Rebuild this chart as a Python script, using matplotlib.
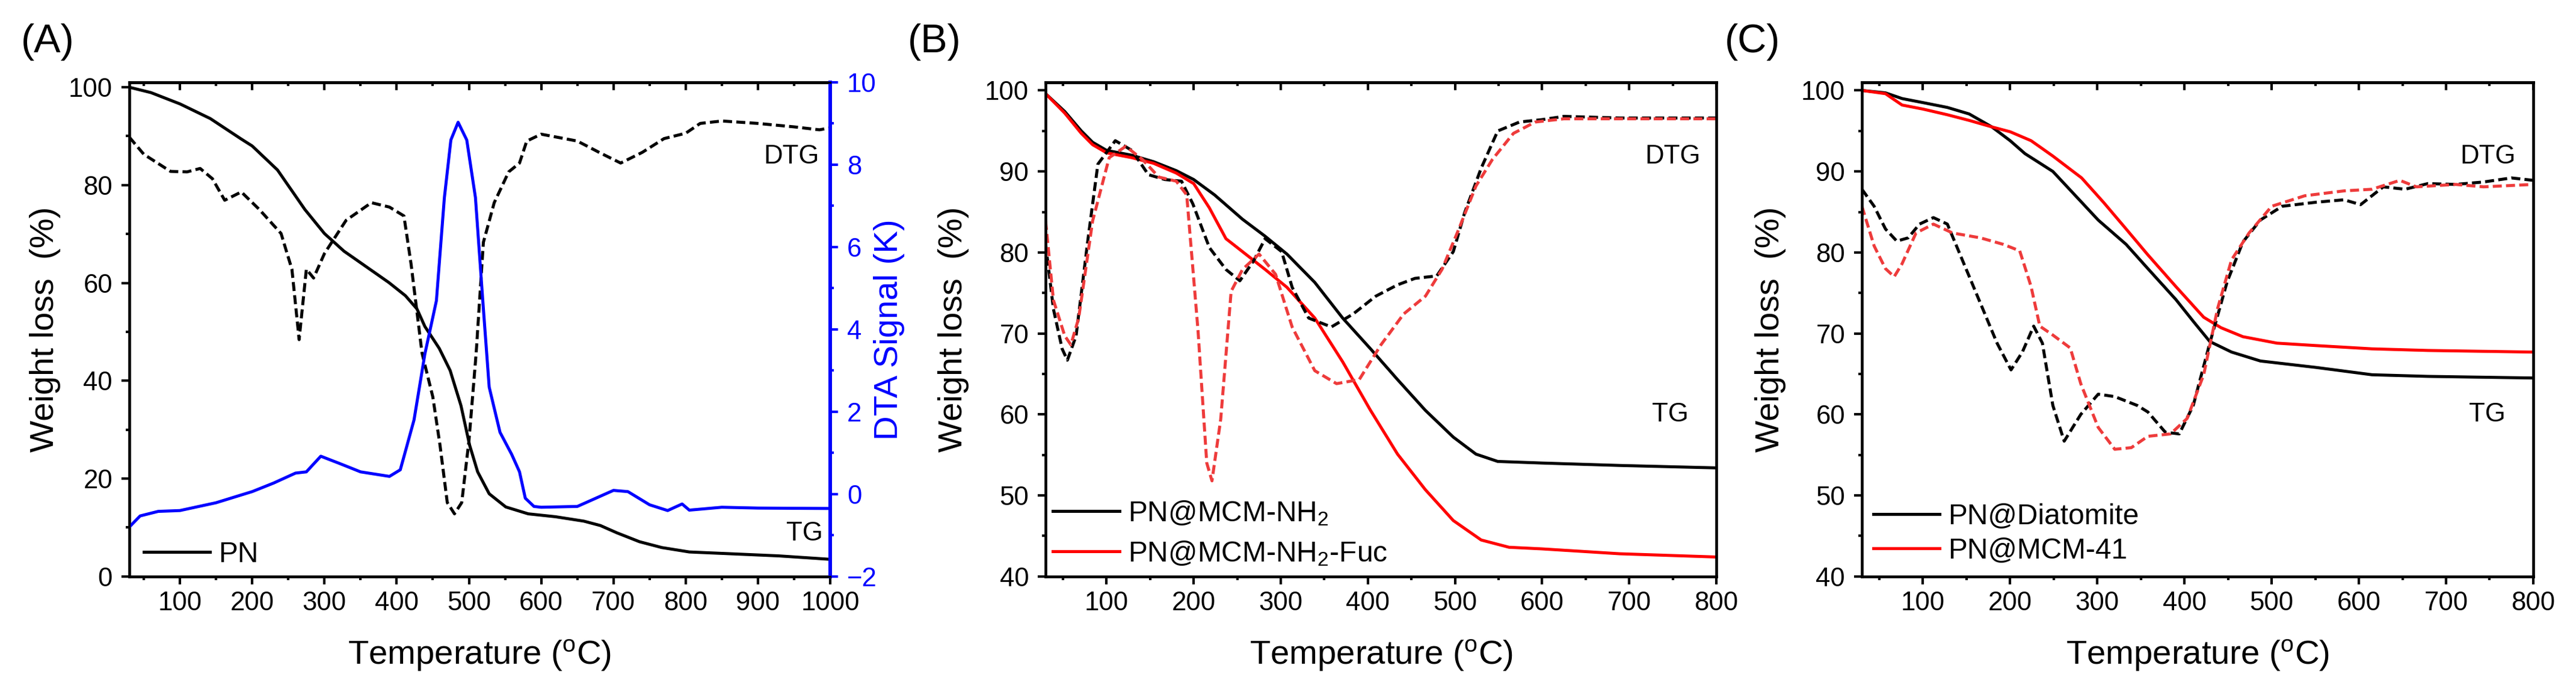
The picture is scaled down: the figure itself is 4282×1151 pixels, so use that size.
import numpy as np
import matplotlib
matplotlib.use("Agg")
import matplotlib.pyplot as plt
from matplotlib.ticker import MultipleLocator

plt.rcParams['font.family'] = ['Liberation Sans', 'DejaVu Sans']
plt.rcParams['mathtext.fontset'] = 'custom'
plt.rcParams['mathtext.rm'] = 'Liberation Sans'
plt.rcParams['mathtext.it'] = 'Liberation Sans:italic'

# ---------------- Panel A: PN ----------------
a_tg_x = [30, 60, 100, 142, 184, 200, 235, 258, 273, 300, 327, 358, 389, 412, 428, 439, 459, 474,
          489, 501, 512, 528, 551, 582, 620, 659, 682, 705, 736, 767, 805, 852, 929, 1000]
a_tg_y = [100.0, 98.9, 96.6, 93.6, 89.5, 88.0, 83.1, 78.2, 75.0, 70.1, 66.5, 63.3, 60.1, 57.4,
          54.7, 51.1, 46.6, 42.1, 34.9, 26.8, 21.4, 16.9, 14.2, 12.8, 12.2, 11.3, 10.4, 8.9,
          7.1, 5.9, 5.0, 4.7, 4.2, 3.5]

a_dtg_x = [30, 50, 87, 110, 128, 145, 162, 185, 210, 240, 255, 265, 275, 285, 300, 330, 365,
           390, 410, 420, 435, 450, 460, 470, 480, 490, 500, 510, 520, 535, 555, 570, 580,
           600, 650, 680, 710, 740, 770, 800, 820, 850, 900, 950, 985, 1000]
a_dtg_y = [89.8, 86.3, 82.8, 82.7, 83.4, 81.3, 76.9, 78.6, 75.0, 70.1, 62.8, 48.4, 62.8, 61.0,
           66.0, 72.8, 76.4, 75.5, 73.7, 63.8, 45.7, 36.7, 26.8, 15.1, 12.8, 15.1, 27.7, 45.7,
           68.3, 76.4, 82.7, 84.5, 89.0, 90.4, 89.0, 86.7, 84.5, 86.7, 89.5, 90.6, 92.6, 93.1,
           92.6, 91.9, 91.3, 91.7]

a_dta_x = [30, 45, 70, 100, 150, 200, 230, 260, 275, 295, 320, 350, 390, 405, 424, 439, 455,
           466, 475, 485, 497, 509, 520, 528, 543, 559, 570, 578, 590, 600, 650, 700, 720,
           750, 775, 795, 805, 850, 900, 1000]
a_dta_y = [-0.80, -0.53, -0.42, -0.40, -0.21, 0.06, 0.27, 0.51, 0.54, 0.92, 0.75, 0.54, 0.43,
           0.59, 1.80, 3.40, 4.70, 7.20, 8.60, 9.03, 8.60, 7.20, 4.50, 2.60, 1.50, 0.97, 0.54,
           -0.10, -0.30, -0.32, -0.30, 0.09, 0.06, -0.26, -0.40, -0.24, -0.39, -0.32, -0.34,
           -0.35]

# ---------------- Panel B ----------------
b_tg1_x = [30, 52, 71, 84, 100, 129, 154, 180, 200, 224, 256, 282, 307, 339, 371, 403, 434,
           466, 498, 524, 549, 600, 689, 800]
b_tg1_y = [99.6, 97.4, 95.0, 93.6, 92.6, 92.0, 91.2, 90.1, 89.0, 87.1, 84.1, 82.0, 79.8, 76.3,
           71.9, 68.1, 64.3, 60.5, 57.2, 55.1, 54.2, 54.0, 53.7, 53.4]
b_tg2_x = [30, 52, 71, 84, 100, 129, 154, 180, 200, 218, 237, 256, 282, 307, 339, 371, 403,
           434, 466, 498, 530, 562, 600, 689, 800]
b_tg2_y = [99.6, 97.2, 94.7, 93.3, 92.3, 91.7, 91.0, 89.8, 88.5, 85.5, 81.7, 80.1, 77.9, 75.7,
           71.9, 66.5, 60.5, 55.1, 50.7, 46.9, 44.5, 43.6, 43.4, 42.8, 42.4]
b_dtg1_x = [30, 39, 49, 55, 65, 78, 90, 110, 129, 148, 167, 186, 199, 218, 237, 253, 269, 282,
            301, 313, 332, 358, 383, 409, 434, 454, 479, 498, 511, 530, 549, 574, 600, 625,
            689, 800]
b_dtg1_y = [81.1, 73.0, 68.1, 66.7, 69.7, 81.1, 90.9, 93.8, 92.6, 89.6, 89.0, 88.8, 86.0, 80.6,
            77.9, 76.5, 79.0, 81.7, 80.1, 75.7, 71.9, 70.8, 72.4, 74.6, 76.0, 76.8, 77.1, 80.1,
            84.9, 90.4, 95.0, 96.1, 96.4, 96.8, 96.6, 96.6]
b_dtg2_x = [30, 39, 52, 59, 68, 84, 103, 122, 141, 160, 180, 192, 205, 215, 221, 231, 243,
            256, 275, 294, 313, 339, 364, 390, 415, 441, 466, 485, 504, 524, 543, 567, 592,
            625, 800]
b_dtg2_y = [83.9, 74.1, 69.7, 68.6, 71.9, 83.9, 91.7, 93.1, 91.5, 89.3, 88.8, 87.1, 70.3, 54.0,
            51.8, 59.4, 75.2, 77.9, 79.8, 77.3, 70.8, 65.4, 63.8, 64.3, 68.6, 72.4, 74.6, 77.9,
            82.8, 88.2, 91.5, 94.7, 96.1, 96.5, 96.5]

# ---------------- Panel C ----------------
c_tg1_x = [30, 57, 76, 100, 128, 153, 179, 200, 217, 249, 275, 301, 333, 358, 390, 410, 429,
           454, 487, 551, 615, 679, 800]
c_tg1_y = [100.0, 99.7, 99.0, 98.5, 97.9, 97.1, 95.5, 93.8, 92.2, 90.0, 87.0, 84.0, 81.0, 78.0,
           74.2, 71.5, 69.0, 67.7, 66.6, 65.8, 64.9, 64.7, 64.5]
c_tg2_x = [30, 57, 76, 100, 128, 153, 179, 200, 224, 249, 282, 307, 333, 358, 390, 422, 442,
           467, 506, 551, 615, 679, 800]
c_tg2_y = [100.0, 99.6, 98.2, 97.7, 97.0, 96.3, 95.5, 94.9, 93.8, 91.9, 89.2, 86.2, 82.9, 79.7,
           75.8, 72.0, 70.7, 69.6, 68.8, 68.5, 68.1, 67.9, 67.7]
c_dtg1_x = [30, 44, 57, 70, 83, 96, 112, 128, 147, 166, 185, 201, 214, 227, 237, 249, 262,
            281, 301, 320, 346, 358, 378, 394, 410, 429, 449, 467, 487, 512, 551, 583, 602,
            628, 653, 679, 711, 743, 775, 800]
c_dtg1_y = [87.8, 85.7, 82.9, 81.4, 81.8, 83.5, 84.3, 83.5, 78.6, 73.7, 68.8, 65.5, 67.7, 70.9,
            68.8, 61.1, 56.7, 60.0, 62.5, 62.2, 61.1, 60.3, 57.8, 57.6, 61.1, 68.8, 76.4, 81.3,
            84.0, 85.7, 86.2, 86.5, 85.9, 88.1, 87.8, 88.5, 88.4, 88.7, 89.2, 88.9]
c_dtg2_x = [30, 44, 57, 67, 76, 92, 112, 134, 166, 192, 211, 224, 234, 249, 269, 281, 301,
            320, 339, 358, 384, 403, 422, 438, 454, 474, 500, 538, 583, 615, 647, 666, 711,
            743, 800]
c_dtg2_y = [85.7, 80.8, 78.0, 77.0, 78.6, 82.4, 83.5, 82.4, 81.8, 81.0, 80.2, 75.8, 70.9, 69.8,
            68.2, 63.8, 58.4, 55.7, 55.9, 57.3, 57.6, 59.5, 64.9, 73.1, 79.1, 82.4, 85.7, 87.0,
            87.6, 87.8, 88.9, 88.1, 88.4, 88.1, 88.4]

BLACK = '#000000'
RED = '#ff0000'
RED_DASH = '#ee3b3b'
BLUE = '#0000ff'
LW = 1.2
DASH = (0, (3.0, 1.4))
TICK_FS = 10.5
LABEL_FS = 13.5
LEG_FS = 11.5

fig = plt.figure(figsize=(4282 / 300, 1151 / 300), dpi=300)

bottom, height = 0.167, 0.714
axA = fig.add_axes([0.0502, bottom, 0.2721, height])
axB = fig.add_axes([0.4059, bottom, 0.2604, height])
axC = fig.add_axes([0.7228, bottom, 0.2606, height])


def style_axes(ax, xmax, ymin, ymax, ymajor, yminor):
    ax.set_xlim(30, xmax)
    ax.set_ylim(ymin, ymax)
    ax.xaxis.set_major_locator(MultipleLocator(100))
    ax.xaxis.set_minor_locator(MultipleLocator(50))
    ax.yaxis.set_major_locator(MultipleLocator(ymajor))
    ax.yaxis.set_minor_locator(MultipleLocator(yminor))
    ax.tick_params(which='both', direction='out', top=False, right=False,
                   labelsize=TICK_FS, width=1.0)
    ax.tick_params(axis='x', pad=2.5)
    ax.tick_params(axis='y', pad=3.5)
    ax.tick_params(which='major', length=3.2)
    ax.tick_params(which='minor', length=1.5)
    for sp in ax.spines.values():
        sp.set_linewidth(1.1)
    # inward ticks on top spine
    top = ax.secondary_xaxis('top')
    top.xaxis.set_major_locator(MultipleLocator(100))
    top.xaxis.set_minor_locator(MultipleLocator(50))
    top.tick_params(which='both', direction='in', labeltop=False, width=1.0)
    top.tick_params(which='major', length=3.2)
    top.tick_params(which='minor', length=1.5)
    top.spines['top'].set_linewidth(1.1)
    ax.set_xlabel('Temperature ($^{\\mathrm{o}}$C)', fontsize=LABEL_FS)
    ax.set_ylabel('Weight loss  (%)', fontsize=LABEL_FS)
    ax.xaxis.set_label_coords(0.5, -0.125)


# Panel A
style_axes(axA, 1000, 0, 101, 20, 10)
axA.yaxis.set_label_coords(-0.098, 0.5)
lnA, = axA.plot(a_tg_x, a_tg_y, color=BLACK, lw=LW, label='PN')
axA.plot(a_dtg_x, a_dtg_y, color=BLACK, lw=LW, linestyle=DASH)
axA.text(985, 85.8, 'DTG', ha='right', va='center', fontsize=TICK_FS)
axA.text(990, 8.8, 'TG', ha='right', va='center', fontsize=TICK_FS)
axA2 = axA.twinx()
axA2.plot(a_dta_x, a_dta_y, color=BLUE, lw=LW)
axA2.set_ylim(-2, 10)
axA2.yaxis.set_major_locator(MultipleLocator(2))
axA2.yaxis.set_minor_locator(MultipleLocator(1))
axA2.tick_params(which='both', direction='out', colors=BLUE, labelsize=TICK_FS, width=1.0, pad=3.5)
axA2.tick_params(which='major', length=3.2)
axA2.tick_params(which='minor', length=1.5)
axA2.spines['right'].set_color(BLUE)
axA2.spines['right'].set_linewidth(1.4)
axA2.set_ylabel('DTA Signal (K)', color=BLUE, fontsize=LABEL_FS)
axA2.yaxis.set_label_coords(1.062, 0.5)
axA.legend(handles=[lnA], loc='lower left', bbox_to_anchor=(0.0206, 0.017), frameon=False,
           fontsize=LEG_FS, handlelength=2.3, handletextpad=0.3, borderpad=0, borderaxespad=0)

# Panel B
style_axes(axB, 800, 40, 101, 10, 5)
axB.yaxis.set_label_coords(-0.114, 0.5)
l1, = axB.plot(b_tg1_x, b_tg1_y, color=BLACK, lw=LW, label='PN@MCM-NH$_2$')
l2, = axB.plot(b_tg2_x, b_tg2_y, color=RED, lw=LW, label='PN@MCM-NH$_2$-Fuc')
axB.plot(b_dtg1_x, b_dtg1_y, color=BLACK, lw=LW, linestyle=DASH)
axB.plot(b_dtg2_x, b_dtg2_y, color=RED_DASH, lw=LW, linestyle=DASH)
axB.text(782, 91.8, 'DTG', ha='right', va='center', fontsize=TICK_FS)
axB.text(768, 60.0, 'TG', ha='right', va='center', fontsize=TICK_FS)
axB.legend(handles=[l1, l2], loc='lower left', bbox_to_anchor=(0.011, 0.018), frameon=False,
           fontsize=LEG_FS, handlelength=2.3, handletextpad=0.3, borderpad=0, borderaxespad=0,
           labelspacing=0.42)

# Panel C
style_axes(axC, 800, 40, 101, 10, 5)
axC.yaxis.set_label_coords(-0.113, 0.5)
m1, = axC.plot(c_tg1_x, c_tg1_y, color=BLACK, lw=LW, label='PN@Diatomite')
m2, = axC.plot(c_tg2_x, c_tg2_y, color=RED, lw=LW, label='PN@MCM-41')
axC.plot(c_dtg1_x, c_dtg1_y, color=BLACK, lw=LW, linestyle=DASH)
axC.plot(c_dtg2_x, c_dtg2_y, color=RED_DASH, lw=LW, linestyle=DASH)
axC.text(780, 91.8, 'DTG', ha='right', va='center', fontsize=TICK_FS)
axC.text(768, 60.0, 'TG', ha='right', va='center', fontsize=TICK_FS)
axC.legend(handles=[m1, m2], loc='lower left', bbox_to_anchor=(0.017, 0.024), frameon=False,
           fontsize=LEG_FS, handlelength=2.3, handletextpad=0.3, borderpad=0, borderaxespad=0,
           labelspacing=0.25)

# panel letters
fig.text(35 / 4282, 1 - 70 / 1151, '(A)', fontsize=16, va='center', ha='left')
fig.text(1509 / 4282, 1 - 70 / 1151, '(B)', fontsize=16, va='center', ha='left')
fig.text(2867 / 4282, 1 - 70 / 1151, '(C)', fontsize=16, va='center', ha='left')

fig.savefig('out.png', dpi=300)
